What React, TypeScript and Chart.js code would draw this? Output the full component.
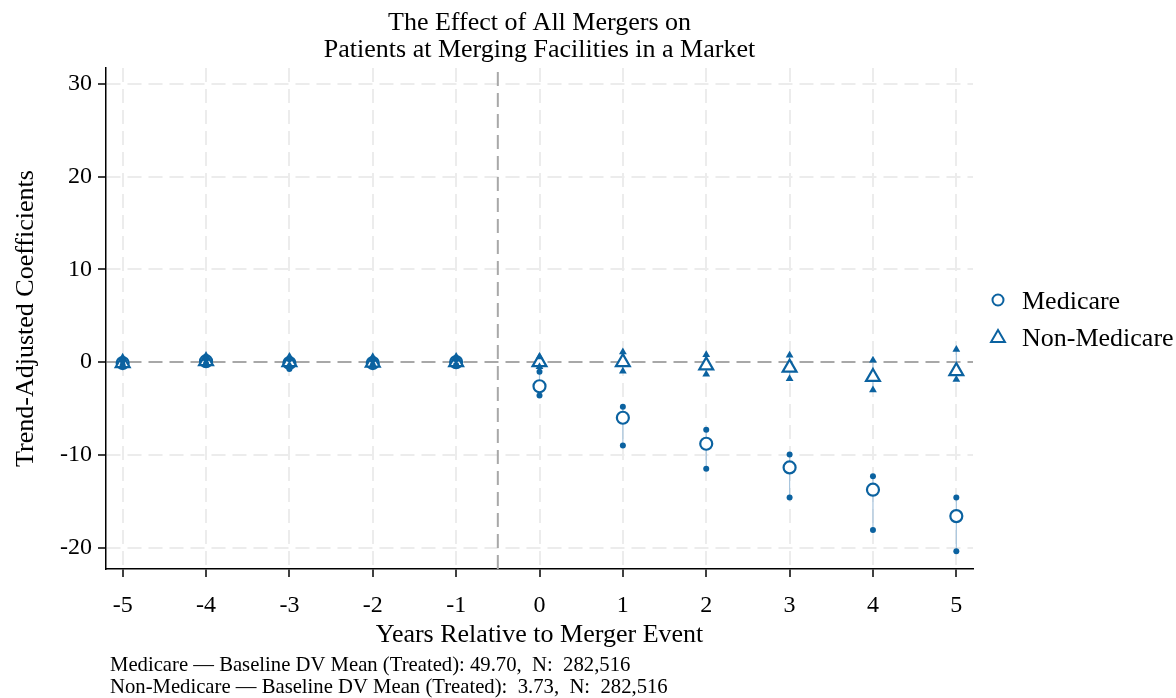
import React, { useEffect, useRef } from "react";
import { Chart, registerables } from "chart.js";

Chart.register(...registerables);

const years = [-5, -4, -3, -2, -1, 0, 1, 2, 3, 4, 5];
const medicareEst = [-0.1, 0.1, -0.1, -0.1, 0.0, -2.6, -6.0, -8.8, -11.35, -13.75, -16.6];
const medicareLo = [-0.35, -0.15, -0.75, -0.35, -0.3, -3.6, -9.0, -11.5, -14.6, -18.1, -20.4];
const medicareHi = [0.15, 0.35, 0.3, 0.2, 0.3, -1.05, -4.8, -7.3, -9.95, -12.3, -14.6];
const nonMedicareEst = [-0.1, 0.1, 0.0, -0.05, 0.0, 0.0, 0.0, -0.35, -0.6, -1.6, -0.97];
const nonMedicareLo = [-0.4, -0.2, -0.3, -0.3, -0.3, -0.5, -0.98, -1.3, -1.8, -3.0, -1.87];
const nonMedicareHi = [0.3, 0.4, 0.4, 0.3, 0.3, 0.55, 1.1, 0.8, 0.75, 0.2, 1.36];
const yTicks = [-20, -10, 0, 10, 20, 30];
const xTicks = [-5, -4, -3, -2, -1, 0, 1, 2, 3, 4, 5];
const eventLineX = -0.5;
const titleLines = ["The Effect of All Mergers on", "Patients at Merging Facilities in a Market"];
const xTitle = "Years Relative to Merger Event";
const yTitle = "Trend-Adjusted Coefficients";
const seriesNames = ["Medicare", "Non-Medicare"];
const footnotes = [
  "Medicare \u2014 Baseline DV Mean (Treated): 49.70,  N:  282,516",
  "Non-Medicare \u2014 Baseline DV Mean (Treated):  3.73,  N:  282,516",
];

const X_MIN = -5.2;
const X_MAX = 5.2;
const Y_MIN = -22.3;
const Y_MAX = 31.7;

const BLUE = "#0b62a0";
const CI_BLUE = "#a8c5dd";
const FONT = '"Liberation Serif", "Times New Roman", serif';

const pts = (ys: number[]) => years.map((x, i) => ({ x, y: ys[i] }));
const ciSegs = (lo: number[], hi: number[]) =>
  years.flatMap((x, i) => [
    { x, y: lo[i] },
    { x, y: hi[i] },
    { x, y: null as any },
  ]);

const textPlugin = {
  id: "textPlugin",
  afterDraw(chart: any) {
    const { ctx, chartArea } = chart;
    ctx.save();
    ctx.fillStyle = "#000";
    ctx.textBaseline = "alphabetic";
    // title
    ctx.font = `26px ${FONT}`;
    ctx.textAlign = "center";
    const cx = (chartArea.left + chartArea.right) / 2;
    ctx.fillText(titleLines[0], cx, 30);
    ctx.fillText(titleLines[1], cx, 57);
    // legend
    const lx = 998;
    ctx.textAlign = "left";
    ctx.font = `26px ${FONT}`;
    ctx.fillText(seriesNames[0], 1022, 309);
    ctx.fillText(seriesNames[1], 1022, 346);
    ctx.strokeStyle = BLUE;
    ctx.lineWidth = 2;
    ctx.beginPath();
    ctx.arc(lx, 300, 5.5, 0, Math.PI * 2);
    ctx.stroke();
    const r = 8;
    const ty = 338;
    ctx.beginPath();
    for (let k = 0; k < 3; k++) {
      const a = (k * 2 * Math.PI) / 3;
      const px = lx + Math.sin(a) * r;
      const py = ty - Math.cos(a) * r;
      if (k === 0) ctx.moveTo(px, py);
      else ctx.lineTo(px, py);
    }
    ctx.closePath();
    ctx.stroke();
    // footnotes
    ctx.font = `20.7px ${FONT}`;
    ctx.fillStyle = "#000";
    ctx.fillText(footnotes[0], 110, 671);
    ctx.fillText(footnotes[1], 110, 693);
    ctx.restore();
  },
};

export default function App() {
  const ref = useRef<HTMLCanvasElement | null>(null);
  useEffect(() => {
    if (!ref.current) return;
    const chart = new Chart(ref.current, {
      type: "scatter",
      data: {
        datasets: [
          {
            type: "line",
            label: "event",
            data: [
              { x: eventLineX, y: Y_MIN },
              { x: eventLineX, y: Y_MAX },
            ],
            borderColor: "#a8a8a8",
            borderWidth: 2,
            borderDash: [14, 7],
            pointRadius: 0,
            order: 10,
          },
          {
            type: "line",
            label: "ci-med",
            data: ciSegs(medicareLo, medicareHi),
            borderColor: CI_BLUE,
            borderWidth: 1.2,
            pointRadius: 0,
            spanGaps: false,
            order: 5,
          },
          {
            type: "line",
            label: "ci-non",
            data: ciSegs(nonMedicareLo, nonMedicareHi),
            borderColor: CI_BLUE,
            borderWidth: 1.2,
            pointRadius: 0,
            spanGaps: false,
            order: 5,
          },
          {
            label: "med-ends",
            data: [...pts(medicareLo), ...pts(medicareHi)],
            pointStyle: "circle",
            pointRadius: 3,
            backgroundColor: BLUE,
            borderColor: BLUE,
            borderWidth: 0,
            order: 0,
          },
          {
            label: "non-ends",
            data: [...pts(nonMedicareLo), ...pts(nonMedicareHi)],
            pointStyle: "triangle",
            pointRadius: 4.5,
            backgroundColor: BLUE,
            borderColor: BLUE,
            borderWidth: 0,
            order: 0,
          },
          {
            label: seriesNames[0],
            data: pts(medicareEst),
            pointStyle: "circle",
            pointRadius: 6,
            backgroundColor: "#ffffff",
            borderColor: BLUE,
            borderWidth: 2.2,
            order: 2,
          },
          {
            label: seriesNames[1],
            data: pts(nonMedicareEst),
            pointStyle: "triangle",
            pointRadius: 8,
            backgroundColor: "#ffffff",
            borderColor: BLUE,
            borderWidth: 2.2,
            order: 1,
          },
        ],
      },
      options: {
        animation: false,
        responsive: false,
        devicePixelRatio: 1,
        events: [],
        layout: { padding: { left: 0, top: 68, right: 203, bottom: 0 } },
        plugins: {
          legend: { display: false },
          tooltip: { enabled: false },
          title: { display: false },
        },
        scales: {
          x: {
            type: "linear",
            min: X_MIN,
            max: X_MAX,
            afterFit: (s: any) => {
              s.height = 129;
            },
            afterBuildTicks: (s: any) => {
              s.ticks = xTicks.map((v) => ({ value: v }));
            },
            ticks: {
              color: "#000",
              font: { family: FONT, size: 24 },
              padding: 14,
              maxRotation: 0,
              autoSkip: false,
            },
            grid: {
              color: "#ececec",
              lineWidth: 2,
              tickColor: "#000",
              tickLength: 8,
              tickWidth: 1.5,
            },
            border: { display: true, color: "#000", width: 1.5, dash: [14, 7] },
            title: {
              display: true,
              text: xTitle,
              color: "#000",
              font: { family: FONT, size: 26 },
              padding: { top: 0, bottom: 47 },
            },
          },
          y: {
            type: "linear",
            min: Y_MIN,
            max: Y_MAX,
            afterFit: (s: any) => {
              s.width = 106;
            },
            afterBuildTicks: (s: any) => {
              s.ticks = yTicks.map((v) => ({ value: v }));
            },
            ticks: {
              color: "#000",
              font: { family: FONT, size: 24 },
              padding: 6,
              autoSkip: false,
            },
            grid: {
              color: (c: any) => (c.tick && c.tick.value === 0 ? "#a8a8a8" : "#ececec"),
              lineWidth: 2,
              tickColor: "#000",
              tickLength: 8,
              tickWidth: 1.5,
            },
            border: { display: true, color: "#000", width: 1.5, dash: [14, 7] },
            title: {
              display: true,
              text: yTitle,
              color: "#000",
              font: { family: FONT, size: 26 },
              padding: { top: 11, bottom: 0 },
            },
          },
        },
      },
      plugins: [textPlugin],
    } as any);
    return () => chart.destroy();
  }, []);
  return (
    <div style={{ position: "absolute", left: 0, top: 0, width: 1176, height: 698, background: "#fff" }}>
      <canvas ref={ref} width={1176} height={698} style={{ display: "block" }} />
    </div>
  );
}
